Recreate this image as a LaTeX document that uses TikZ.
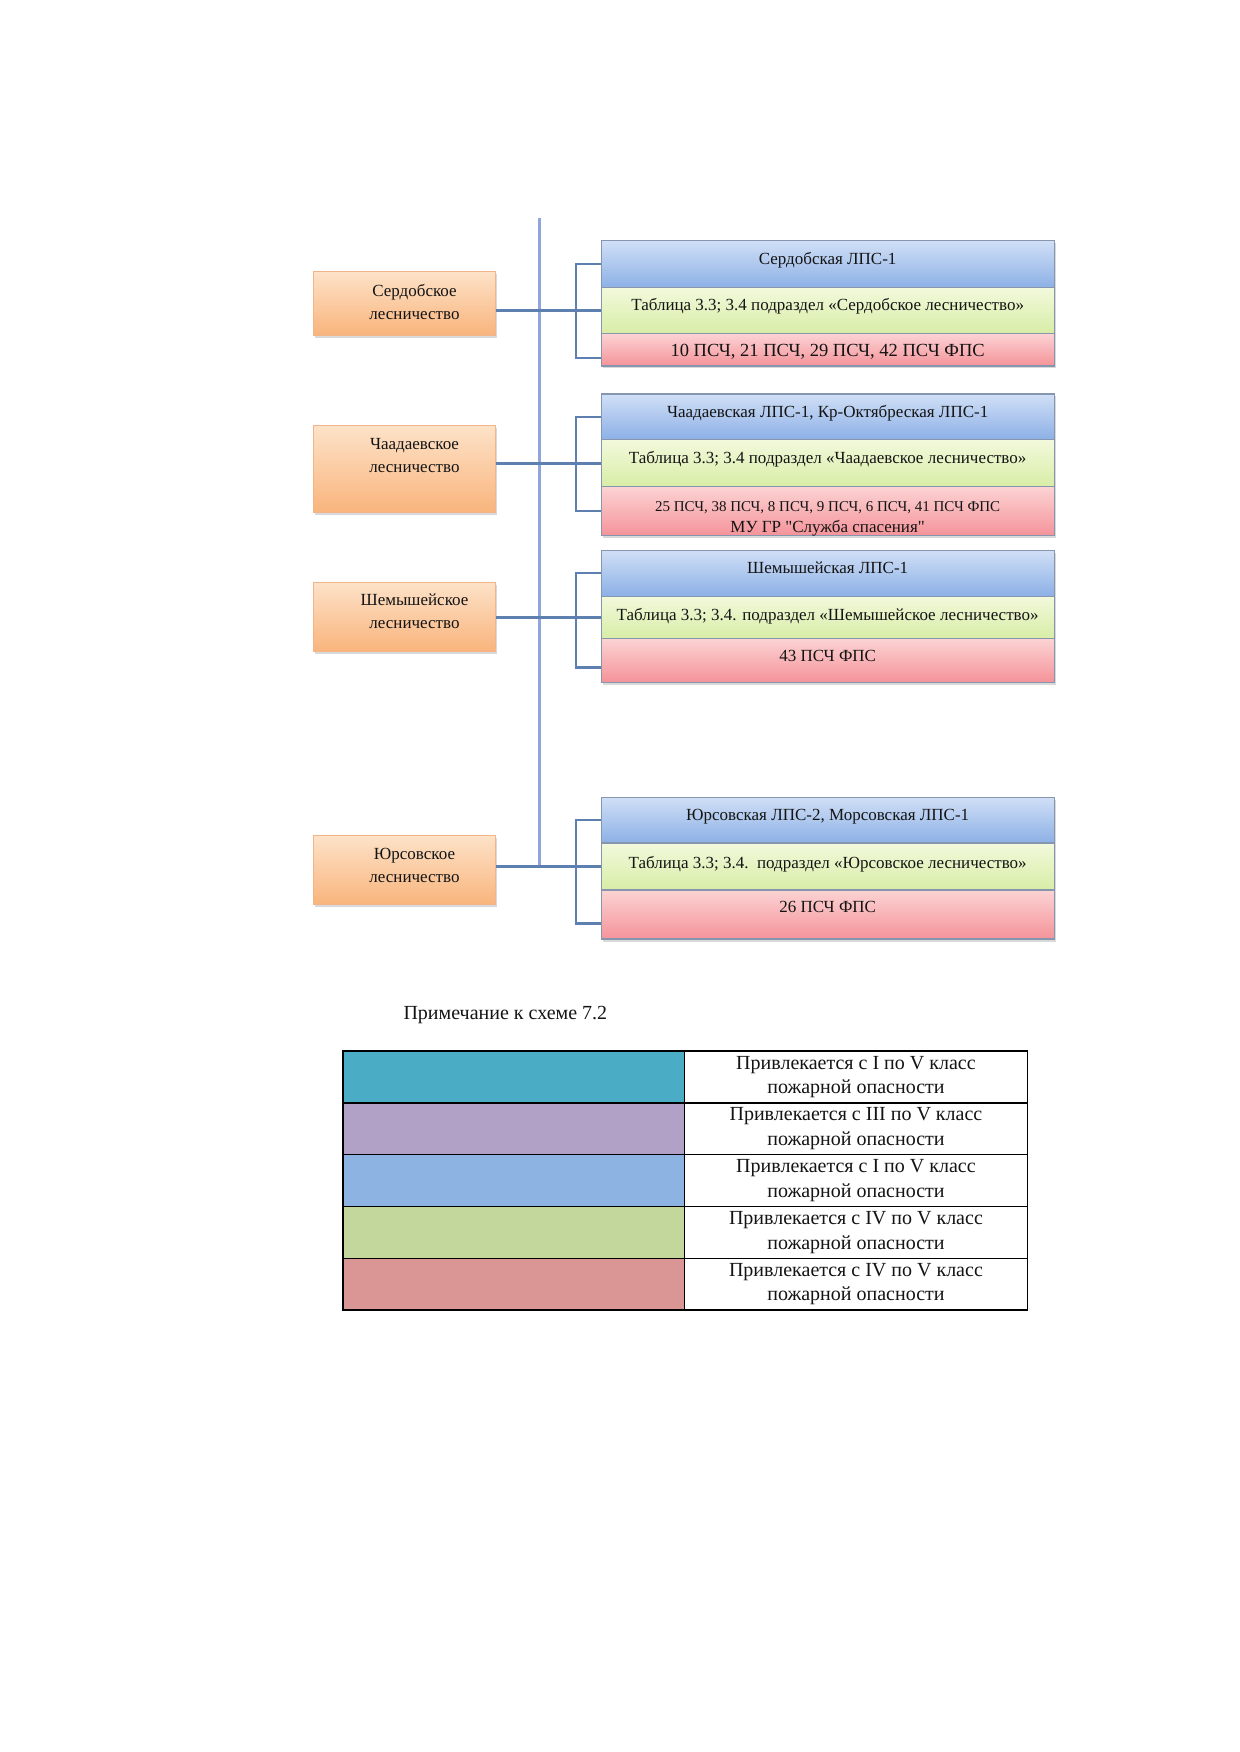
\documentclass[tikz,border=0pt]{standalone}
\usepackage{fontspec}
\setmainfont{Liberation Serif}[Ligatures=TeXOff]
\usetikzlibrary{shadows,calc}
\definecolor{txt}{HTML}{141414}
\definecolor{or1}{HTML}{FDE2C8}
\definecolor{or2}{HTML}{F9B47C}
\definecolor{orl}{HTML}{F2B58A}
\definecolor{bl1}{HTML}{D0DFF6}
\definecolor{bl2}{HTML}{8CB0E6}
\definecolor{gr1}{HTML}{F2F9DC}
\definecolor{gr2}{HTML}{D8EDA6}
\definecolor{rd1}{HTML}{FCD3D3}
\definecolor{rd2}{HTML}{F4939A}
\definecolor{boxl}{HTML}{8596AE}
\definecolor{vcol}{HTML}{8EA5DD}
\definecolor{hcol}{HTML}{5E80B0}
\definecolor{lgteal}{HTML}{4BACC6}
\definecolor{lgpurple}{HTML}{B2A1C7}
\definecolor{lgblue}{HTML}{8DB3E2}
\definecolor{lggreen}{HTML}{C3D69B}
\definecolor{lgred}{HTML}{D99694}
% move a node's text by (dx,dy) without changing the node's box
\newcommand\txtmove[3]{\hspace*{#1}\raisebox{#2}[\height][\depth]{\begin{tabular}{@{}c@{}}#3\end{tabular}}}
\begin{document}
\begin{tikzpicture}[x=1pt,y=-1pt,
  shd/.style={drop shadow={shadow xshift=1.5pt,shadow yshift=-2.5pt,opacity=0.3}},
  orng/.style={shd,draw=orl,line width=1pt,top color=or1,bottom color=or2,
    minimum width=182pt,inner sep=0pt,align=center,text=txt,
    font=\fontsize{17}{23}\selectfont},
  rbox/.style={shd,draw=boxl,line width=1.3pt,minimum width=453pt,inner sep=0pt,
    anchor=north west,align=center,text=txt,font=\fontsize{17}{21}\selectfont},
  blu/.style={rbox,top color=bl1,bottom color=bl2},
  grn/.style={rbox,top color=gr1,bottom color=gr2},
  rdd/.style={rbox,top color=rd1,bottom color=rd2},
  vline/.style={draw=vcol,line width=3pt},
  hline/.style={draw=hcol,line width=2.6pt},
  brk/.style={draw=hcol,line width=2.4pt},
  lgc/.style={draw=black,line width=1.5pt,anchor=north west,minimum width=341.7pt,
    minimum height=51.84pt,inner sep=0pt},
  lgt/.style={draw=black,line width=1.5pt,fill=white,anchor=north west,minimum width=343pt,
    minimum height=51.84pt,inner sep=0pt,align=center,text=txt,
    font=\fontsize{20}{24.6}\selectfont}
]
\useasboundingbox (0,0) rectangle (1239,1752);

% vertical trunk
\coordinate (vt) at (539.6,218);

% group 1
\node[blu,minimum height=46.9pt] (b1) at (600.5,240.2) {\txtmove{0pt}{3.5pt}{Сердобская ЛПС-1}};
\node[grn,minimum height=45.8pt] (g1) at (600.5,287.1) {\txtmove{0pt}{4pt}{Таблица 3.3; 3.4 подраздел «Сердобское лесничество»}};
\node[rdd,minimum height=32.4pt] (r1) at (600.5,332.9) {\txtmove{0pt}{-2.5pt}{\fontsize{18.5}{21}\selectfont 10 ПСЧ, 21 ПСЧ, 29 ПСЧ, 42 ПСЧ ФПС}};
\node[orng,minimum height=63.7pt] (o1) at (404,303.4) {\txtmove{21pt}{0pt}{Сердобское\\лесничество}};

% group 2
\node[blu,minimum height=45.8pt] (b2) at (600.5,393.3) {\txtmove{0pt}{3.5pt}{Чаадаевская ЛПС-1, Кр-Октябреская ЛПС-1}};
\node[grn,minimum height=46.9pt] (g2) at (600.5,439.1) {\txtmove{0pt}{3.5pt}{Таблица 3.3; 3.4 подраздел «Чаадаевское лесничество»}};
\node[rdd,minimum height=49.1pt] (r2) at (600.5,486) {\txtmove{0pt}{-7pt}{{\fontsize{15}{20}\selectfont 25 ПСЧ, 38 ПСЧ, 8 ПСЧ, 9 ПСЧ, 6 ПСЧ, 41 ПСЧ ФПС}\\МУ ГР "Служба спасения"}};
\node[orng,minimum height=87.1pt] (o2) at (404,469.3) {\txtmove{21pt}{13pt}{Чаадаевское\\лесничество}};

% group 3
\node[blu,minimum height=45.8pt] (b3) at (600.5,549.7) {\txtmove{0pt}{3.5pt}{Шемышейская ЛПС-1}};
\node[grn,minimum height=42.4pt] (g3) at (600.5,595.5) {\txtmove{0pt}{1.5pt}{Таблица 3.3; 3.4. подраздел «Шемышейское лесничество»}};
\node[rdd,minimum height=43.6pt] (r3) at (600.5,637.9) {\txtmove{0pt}{3.5pt}{43 ПСЧ ФПС}};
\node[orng,minimum height=69.2pt] (o3) at (404,616.7) {\txtmove{21pt}{4pt}{Шемышейское\\лесничество}};

% group 4
\node[blu,minimum height=45.8pt] (b4) at (600.5,796.6) {\txtmove{0pt}{3.5pt}{Юрсовская ЛПС-2, Морсовская ЛПС-1}};
\node[grn,minimum height=46.9pt] (g4) at (600.5,842.4) {\txtmove{0pt}{2.5pt}{Таблица 3.3; 3.4.\ \ подраздел «Юрсовское лесничество»}};
\node[rdd,minimum height=49.1pt] (r4) at (600.5,889.3) {\txtmove{0pt}{6.5pt}{26 ПСЧ ФПС}};
\node[orng,minimum height=69.2pt] (o4) at (404,870.3) {\txtmove{21pt}{4pt}{Юрсовское\\лесничество}};

% connectors
\draw[vline] (vt) -- (vt |- g4.west);
\draw[hline] (o1.east |- g1.west) -- (g1.west);
\draw[hline] (o2.east |- g2.west) -- (g2.west);
\draw[hline] (o3.east |- g3.west) -- (g3.west);
\draw[hline] (o4.east |- g4.west) -- (g4.west);

\coordinate (k1) at ([yshift=-8.5pt]r1.west);
\coordinate (k2) at (r2.west);
\coordinate (k3) at ([yshift=-7.3pt]r3.west);
\coordinate (k4) at ([yshift=-8.9pt]r4.west);
\draw[brk] (b1.west) -- ++(-24.5,0) |- (k1);
\draw[brk] (b2.west) -- ++(-24.5,0) |- (k2);
\draw[brk] (b3.west) -- ++(-24.5,0) |- (k3);
\draw[brk] (b4.west) -- ++(-24.5,0) |- (k4);

% legend
\node[anchor=west,text=txt,font=\fontsize{20}{24}\selectfont] (note) at (400,1015) {Примечание к схеме 7.2};

\node[lgc,fill=lgteal]   (c1) at (342,1050.2) {};
\node[lgc,fill=lgpurple] (c2) at (342,1102.04) {};
\node[lgc,fill=lgblue]   (c3) at (342,1153.88) {};
\node[lgc,fill=lggreen]  (c4) at (342,1205.72) {};
\node[lgc,fill=lgred]    (c5) at (342,1257.56) {};

\node[lgt] (t1) at (683.7,1050.2) {Привлекается с I по V класс\\пожарной опасности};
\node[lgt] (t2) at (683.7,1102.04) {Привлекается с III по V класс\\пожарной опасности};
\node[lgt] (t3) at (683.7,1153.88) {Привлекается с I по V класс\\пожарной опасности};
\node[lgt] (t4) at (683.7,1205.72) {Привлекается с IV по V класс\\пожарной опасности};
\node[lgt] (t5) at (683.7,1257.56) {Привлекается с IV по V класс\\пожарной опасности};
\end{tikzpicture}
\end{document}
